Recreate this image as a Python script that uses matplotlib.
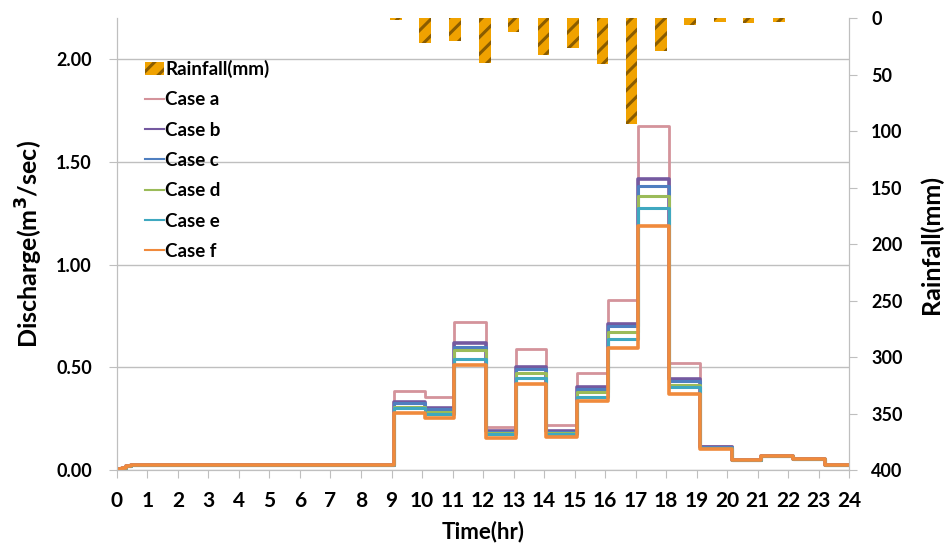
import numpy as np
import matplotlib
matplotlib.use('Agg')
import matplotlib.pyplot as plt
from matplotlib.patches import Patch

plt.rcParams['font.family'] = ['Lato', 'DejaVu Sans']
plt.rcParams['font.weight'] = 'bold'
plt.rcParams['hatch.linewidth'] = 2.2

# rainfall (mm), hanging bars on the right axis
rain_hour = [9.15, 10.1, 11.08, 12.07, 13.0, 13.98, 14.95, 15.92, 16.87, 17.84, 18.79, 19.77, 20.7, 21.7]
rain_mm = [2, 22, 20, 40, 12, 33, 26, 41, 94, 29, 6, 3, 4, 3]

# discharge step levels (m3/sec); each level starts at the matching step time
step_time = [0.0, 0.15, 0.3, 0.45, 9.08, 10.1, 11.05, 12.1, 13.08, 14.08, 15.08, 16.1,
             17.08, 18.1, 19.1, 20.15, 21.13, 22.15, 23.2, 24.0]
base = [0.005, 0.012, 0.02, 0.025]
tail = [0.05, 0.068, 0.053, 0.024, 0.024]

case_a = base + [0.387, 0.354, 0.722, 0.211, 0.587, 0.219, 0.470, 0.830, 1.677, 0.519, 0.115] + tail
case_b = base + [0.332, 0.303, 0.617, 0.191, 0.500, 0.190, 0.402, 0.709, 1.416, 0.441, 0.112] + tail
case_c = base + [0.325, 0.297, 0.600, 0.187, 0.490, 0.187, 0.395, 0.700, 1.382, 0.432, 0.110] + tail
case_d = base + [0.308, 0.281, 0.584, 0.180, 0.470, 0.180, 0.381, 0.673, 1.333, 0.414, 0.108] + tail
case_e = base + [0.300, 0.275, 0.540, 0.175, 0.446, 0.175, 0.357, 0.636, 1.278, 0.405, 0.106] + tail
case_f = base + [0.276, 0.252, 0.511, 0.156, 0.418, 0.162, 0.337, 0.592, 1.188, 0.370, 0.100] + tail

cases = {
    'Case a': (case_a, '#D4939B', 2.0),
    'Case b': (case_b, '#7459A0', 2.6),
    'Case c': (case_c, '#4F7FC0', 2.2),
    'Case d': (case_d, '#9BBB59', 2.2),
    'Case e': (case_e, '#3FA8C0', 2.2),
    'Case f': (case_f, '#F08A3C', 2.6),
}

fig = plt.figure(figsize=(9.48, 5.51), dpi=100)
ax = fig.add_axes([0.1234, 0.147, 0.7722, 0.82])
ax2 = ax.twinx()

grid_col = '#BFBFBF'
for name, (vals, col, lw) in cases.items():
    ax.step(step_time, vals, where='post', color=col, lw=lw, label=name, zorder=3)

ax2.bar(rain_hour, rain_mm, width=0.38, color='#F0A200', edgecolor='#8A5C00',
        hatch='//', linewidth=0, zorder=2)

ax.set_xlim(0, 24)
ax.set_ylim(0, 2.2)
ax2.set_ylim(400, 0)

ax.set_xticks(range(0, 25))
ax.set_yticks([0, 0.5, 1.0, 1.5, 2.0])
ax.set_yticklabels(['0.00', '0.50', '1.00', '1.50', '2.00'])
ax2.set_yticks(range(0, 401, 50))

ax.grid(axis='y', color=grid_col, lw=1)
ax.set_axisbelow(True)

for a in (ax, ax2):
    a.spines['top'].set_visible(False)
    for s in ('left', 'right', 'bottom'):
        a.spines[s].set_color(grid_col)
    a.tick_params(colors=grid_col, labelcolor='black', labelsize=13, length=6)

ax.tick_params(axis='x', pad=9, labelsize=15)
ax.tick_params(axis='y', pad=12)
ax2.tick_params(axis='y', pad=10)

ax.set_xlabel('Time(hr)', fontsize=16, fontweight='bold', labelpad=7)
ax.set_ylabel('Discharge(m$^3$/sec)', fontsize=18, fontweight='bold', labelpad=8)
ax2.set_ylabel('Rainfall(mm)', fontsize=18, fontweight='bold', labelpad=12)

handles = [Patch(facecolor='#F0A200', edgecolor='#8A5C00', hatch='//', linewidth=0, label='Rainfall(mm)')]
handles += ax.get_legend_handles_labels()[0]
leg = ax2.legend(handles=handles, loc='upper left', bbox_to_anchor=(0.015, 0.945), frameon=False,
                 fontsize=13.5, handlelength=1.0, handletextpad=0.1, labelspacing=0.71)
for h in leg.get_lines():
    h.set_linewidth(1.5)

fig.savefig('out.png', dpi=100)
